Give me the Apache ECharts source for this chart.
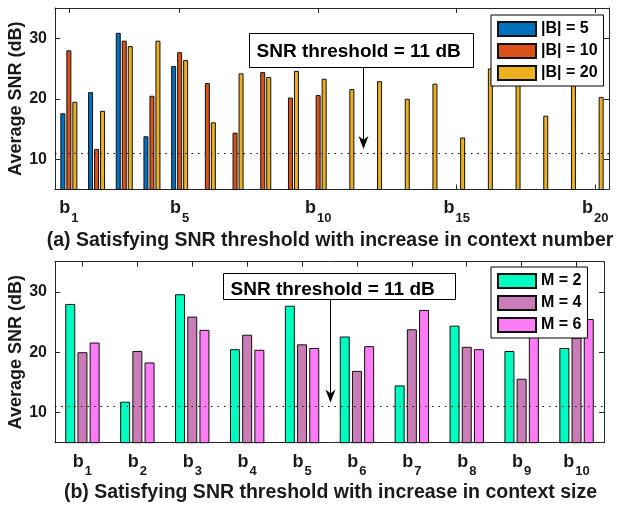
<!DOCTYPE html>
<html>
<head>
<meta charset="utf-8">
<script src="https://cdn.jsdelivr.net/npm/echarts@6/dist/echarts.min.js"></script>
<style>
  html, body { margin: 0; padding: 0; background: #fff; }
  #chart { width: 618px; height: 506px; }
</style>
</head>
<body>
<div id="chart"></div>
<script>
// ---- (a) context number sweep: b1 .. b20 ----
const contextNumberCats = ['1','2','3','4','5','6','7','8','9','10',
                           '11','12','13','14','15','16','17','18','19','20'];
const snrB5  = [17.6, 21.1, 30.9, 13.8, 25.4, null, null, null, null, null,
                null, null, null, null, null, null, null, null, null, null];
const snrB10 = [28.0, 11.7, 29.6, 20.5, 27.7, 22.6, 14.4, 24.4, 20.2, 20.6,
                null, null, null, null, null, null, null, null, null, null];
const snrB20 = [19.5, 18.0, 28.7, 29.6, 26.4, 16.1, 24.2, 23.6, 24.6, 23.3,
                21.6, 22.9, 20.0, 22.5, 13.6, 25.0, 24.6, 17.2, 26.2, 20.3];
const contextNumberLabelIdx = [0, 4, 9, 14, 19];

// ---- (b) context size sweep: b1 .. b10 ----
const contextSizeCats = ['1','2','3','4','5','6','7','8','9','10'];
const snrM2 = [28.0, 11.8, 29.6, 20.5, 27.7, 22.6, 14.5, 24.4, 20.2, 20.7];
const snrM4 = [20.0, 20.2, 25.9, 22.9, 21.3, 16.9, 23.8, 20.9, 15.6, 22.4];
const snrM6 = [21.6, 18.3, 23.7, 20.4, 20.7, 21.0, 27.0, 20.5, 24.0, 25.5];

const yTickValues = [10, 20, 30];
const snrThreshold = 11;
const thresholdText = 'SNR threshold = 11 dB';
const captionA = '(a) Satisfying SNR threshold with increase in context number';
const captionB = '(b) Satisfying SNR threshold with increase in context size';

const FONT = '"Liberation Sans", Arial, Helvetica, sans-serif';
const AXIS_COLOR = '#262626';
const TEXT_COLOR = '#1a1a1a';

const chart = echarts.init(document.getElementById('chart'), null, { renderer: 'canvas' });

const subLabelRich = {
  b: { fontFamily: FONT, fontWeight: 'bold', fontSize: 18, lineHeight: 18, color: TEXT_COLOR, verticalAlign: 'top' },
  s: { fontFamily: FONT, fontWeight: 'bold', fontSize: 13, lineHeight: 13, color: TEXT_COLOR, verticalAlign: 'top', padding: [12, 0, 0, 1] }
};
const subLabel = v => '{b|b}{s|' + v + '}';

function xAxisBottom(gridIndex, cats, showIdx) {
  const pick = showIdx ? (i => showIdx.indexOf(i) >= 0) : 0;
  return {
    type: 'category', gridIndex, data: cats, position: 'bottom',
    axisLine: { show: true, onZero: false, lineStyle: { color: AXIS_COLOR, width: 1 } },
    axisTick: { show: true, inside: true, length: 5, alignWithLabel: true, interval: pick, lineStyle: { color: AXIS_COLOR } },
    axisLabel: { show: true, interval: pick, margin: 10, formatter: subLabel, rich: subLabelRich },
    splitLine: { show: false }
  };
}
function xAxisTop(gridIndex, cats, showIdx) {
  const pick = showIdx ? (i => showIdx.indexOf(i) >= 0) : 0;
  return {
    type: 'category', gridIndex, data: cats, position: 'top',
    axisLine: { show: true, onZero: false, lineStyle: { color: AXIS_COLOR, width: 1 } },
    axisTick: { show: true, inside: true, length: 5, alignWithLabel: true, interval: pick, lineStyle: { color: AXIS_COLOR } },
    axisLabel: { show: false },
    splitLine: { show: false }
  };
}
function yAxisLeft(gridIndex) {
  return {
    type: 'value', gridIndex, min: 5, max: 35, position: 'left',
    name: 'Average SNR (dB)', nameLocation: 'middle', nameGap: 30, nameRotate: 90,
    nameMoveOverlap: false,
    nameTextStyle: { fontFamily: FONT, fontWeight: 'bold', fontSize: 18, color: TEXT_COLOR },
    axisLine: { show: true, onZero: false, lineStyle: { color: AXIS_COLOR, width: 1 } },
    axisTick: { show: true, inside: true, length: 5, customValues: yTickValues, lineStyle: { color: AXIS_COLOR } },
    axisLabel: { show: true, customValues: yTickValues, margin: 8, fontFamily: FONT, fontWeight: 'bold', fontSize: 16, color: TEXT_COLOR },
    splitLine: { show: false }
  };
}
function yAxisRight(gridIndex) {
  return {
    type: 'value', gridIndex, min: 5, max: 35, position: 'right',
    axisLine: { show: true, onZero: false, lineStyle: { color: AXIS_COLOR, width: 1 } },
    axisTick: { show: true, inside: true, length: 5, customValues: yTickValues, lineStyle: { color: AXIS_COLOR } },
    axisLabel: { show: false },
    splitLine: { show: false }
  };
}

const thresholdLine = {
  silent: true, symbol: 'none', animation: false,
  label: { show: false },
  lineStyle: { type: [1.5, 5], color: '#000', width: 1.2 },
  data: [{ yAxis: snrThreshold }]
};

function barSeries(name, data, color, xi, yi, width, gap, withLine) {
  const s = {
    type: 'bar', name, data, xAxisIndex: xi, yAxisIndex: yi,
    barWidth: width, barGap: gap, clip: true,
    itemStyle: { color, borderColor: '#111', borderWidth: 1 },
    emphasis: { disabled: true }
  };
  if (withLine) s.markLine = thresholdLine;
  return s;
}

const legendBase = {
  orient: 'vertical', icon: 'rect', itemWidth: 38, itemHeight: 14, itemGap: 6,
  padding: [6, 6, 5, 6], borderColor: '#000', borderWidth: 1, backgroundColor: '#fff',
  selectedMode: false,
  textStyle: { fontFamily: FONT, fontWeight: 'bold', fontSize: 16, lineHeight: 14, color: '#000' }
};

chart.setOption({
  animation: false,
  backgroundColor: '#fff',
  grid: [
    { left: 55, top: 8, width: 554, height: 181.5, containLabel: false, outerBoundsMode: 'none' },
    { left: 55, top: 261.7, width: 549, height: 181, containLabel: false, outerBoundsMode: 'none' }
  ],
  xAxis: [
    xAxisBottom(0, contextNumberCats, contextNumberLabelIdx),
    xAxisTop(0, contextNumberCats, contextNumberLabelIdx),
    xAxisBottom(1, contextSizeCats, null),
    xAxisTop(1, contextSizeCats, null)
  ],
  yAxis: [yAxisLeft(0), yAxisRight(0), yAxisLeft(1), yAxisRight(1)],
  legend: [
    Object.assign({}, legendBase, { left: 491, top: 15, data: ['|B| = 5', '|B| = 10', '|B| = 20'] }),
    Object.assign({}, legendBase, { left: 491, top: 267, data: ['M = 2', 'M = 4', 'M = 6'] })
  ],
  series: [
    barSeries('|B| = 5',  snrB5,  '#0072BD', 0, 0, 5, '20%', true),
    barSeries('|B| = 10', snrB10, '#D95319', 0, 0, 5, '20%', false),
    barSeries('|B| = 20', snrB20, '#EDB120', 0, 0, 5, '20%', false),
    barSeries('M = 2', snrM2, '#00FCC0', 2, 2, 10, '22%', true),
    barSeries('M = 4', snrM4, '#CA7CB6', 2, 2, 10, '22%', false),
    barSeries('M = 6', snrM6, '#FB7CF4', 2, 2, 10, '22%', false)
  ]
});

// Threshold call-outs, placed in axis units (category index, dB)
const callouts = [
  { axis: 0, box: [6.51, 14.58, 30.9, 25.36], arrowX: 10.63, tipY: 11.7, dy: 1 },
  { axis: 2, box: [2.566, 6.786, 33.18, 28.8], arrowX: 4.509, tipY: 11.65, dy: 3.5 }
];

function toPx(axis, xi, yv) {
  const i0 = Math.floor(xi), f = xi - i0;
  const a = chart.convertToPixel({ xAxisIndex: axis }, i0);
  const b = chart.convertToPixel({ xAxisIndex: axis }, i0 + 1);
  const y = chart.convertToPixel({ yAxisIndex: axis }, yv);
  return [a + (b - a) * f, y];
}

const graphics = [];
callouts.forEach(c => {
  const [x0, y0] = toPx(c.axis, c.box[0], c.box[2]);
  const [x1, y1] = toPx(c.axis, c.box[1], c.box[3]);
  const [ax, tip] = toPx(c.axis, c.arrowX, c.tipY);
  const bx = Math.round(x0) + 0.5, by = Math.round(y0) + 0.5;
  const bw = Math.round(x1 - x0), bh = Math.round(y1 - y0);
  const lx = Math.round(ax) + 0.5;
  graphics.push({
    type: 'rect', z: 100, shape: { x: bx, y: by, width: bw, height: bh },
    style: { fill: '#fff', stroke: '#000', lineWidth: 1 }
  });
  graphics.push({
    type: 'text', z: 101, x: bx + 7, y: by + bh / 2 + c.dy,
    style: { text: thresholdText, font: 'bold 19px ' + FONT, fill: '#000', align: 'left', verticalAlign: 'middle' }
  });
  graphics.push({
    type: 'line', z: 100, shape: { x1: lx, y1: by + bh, x2: lx, y2: tip - 8 },
    style: { stroke: '#000', lineWidth: 1 }
  });
  graphics.push({
    type: 'polygon', z: 100,
    shape: { points: [[lx, tip], [lx - 5, tip - 13], [lx, tip - 9], [lx + 5, tip - 13]] },
    style: { fill: '#000' }
  });
});

// Panel captions, centred under each plot
const g0 = chart.getModel().getComponent('grid', 0).coordinateSystem.getRect();
const g1 = chart.getModel().getComponent('grid', 1).coordinateSystem.getRect();
graphics.push({
  type: 'text', x: g0.x + g0.width / 2 - 2, y: 241,
  style: { text: captionA, font: 'bold 19.5px ' + FONT, fill: TEXT_COLOR, align: 'center', verticalAlign: 'middle' }
});
graphics.push({
  type: 'text', x: g1.x + g1.width / 2 + 1, y: 493,
  style: { text: captionB, font: 'bold 19.5px ' + FONT, fill: TEXT_COLOR, align: 'center', verticalAlign: 'middle' }
});

chart.setOption({ graphic: graphics });
</script>
</body>
</html>
